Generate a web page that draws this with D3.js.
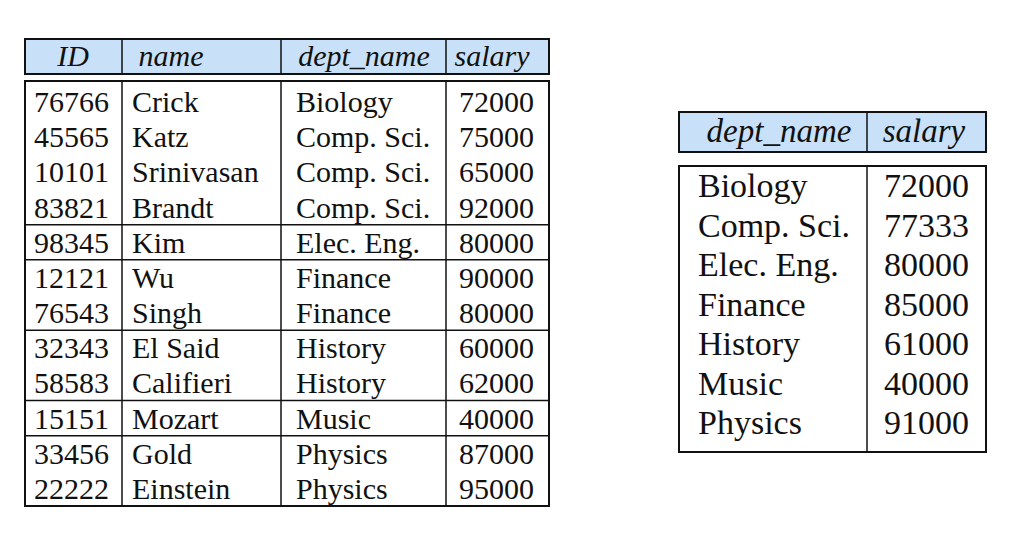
<html>
  <head>
    <meta charset="UTF-8">
    <script src="https://unpkg.com/d3@7/dist/d3.min.js"></script>
    <title>instructor / avg salary</title>
    <style>
      body { margin: 0; background: #fff; }
      text { font-family: "Liberation Serif", "Times New Roman", serif; fill: #111; }
    </style>
  </head>
  <body>
	<script type="text/javascript">

      // instructor relation
      var ids = ["76766","45565","10101","83821","98345","12121","76543","32343","58583","15151","33456","22222"];
      var names = ["Crick","Katz","Srinivasan","Brandt","Kim","Wu","Singh","El Said","Califieri","Mozart","Gold","Einstein"];
      var depts = ["Biology","Comp. Sci.","Comp. Sci.","Comp. Sci.","Elec. Eng.","Finance","Finance","History","History","Music","Physics","Physics"];
      var salaries = [72000,75000,65000,92000,80000,90000,80000,60000,62000,40000,87000,95000];
      var leftHeaders = ["ID","name","dept_name","salary"];

      // avg salary per dept
      var aggDepts = ["Biology","Comp. Sci.","Elec. Eng.","Finance","History","Music","Physics"];
      var aggSalaries = [72000,77333,80000,85000,61000,40000,91000];
      var rightHeaders = ["dept_name","salary"];

      var width = 1026;
      var height = 547;
      var headFill = "#c8e1f8";

      var svg = d3.select('body')
                  .append('svg')
                  .attr('width', width)
                  .attr('height', height);

      // draws one table: column edges, header box, body box, rows
      function drawTable(opt)
      {
        var g = svg.append('g');
        var edges = opt.edges;
        var x0 = edges[0], x1 = edges[edges.length - 1];

        // header
        g.append('rect')
          .attr('x', x0).attr('y', opt.headTop)
          .attr('width', x1 - x0).attr('height', opt.headBottom - opt.headTop)
          .style('fill', headFill).style('stroke', '#111').style('stroke-width', 2);

        g.selectAll('line.hdiv')
          .data(edges.slice(1, -1))
          .enter().append('line')
          .attr('x1', function(d){ return d; }).attr('x2', function(d){ return d; })
          .attr('y1', opt.headTop).attr('y2', opt.headBottom)
          .style('stroke', '#111').style('stroke-width', 1.5);

        g.selectAll('text.head')
          .data(opt.headers)
          .enter().append('text')
          .attr('x', function(d, i){ return opt.headX[i]; })
          .attr('y', opt.headBase)
          .attr('text-anchor', 'middle')
          .style('font-style', 'italic')
          .style('font-size', opt.headSize + 'px')
          .text(function(d){ return d; });

        // body
        g.append('rect')
          .attr('x', x0).attr('y', opt.bodyTop)
          .attr('width', x1 - x0).attr('height', opt.bodyBottom - opt.bodyTop)
          .style('fill', 'none').style('stroke', '#111').style('stroke-width', 2);

        g.selectAll('line.bdiv')
          .data(edges.slice(1, -1))
          .enter().append('line')
          .attr('x1', function(d){ return d; }).attr('x2', function(d){ return d; })
          .attr('y1', opt.bodyTop).attr('y2', opt.bodyBottom)
          .style('stroke', '#111').style('stroke-width', 1.5);

        var y = d3.scaleBand()
          .domain(d3.range(opt.columns[0].length))
          .range(opt.rowRange);

        // horizontal rules between groups
        g.selectAll('line.rule')
          .data(opt.rules || [])
          .enter().append('line')
          .attr('x1', x0).attr('x2', x1)
          .attr('y1', function(d){ return y(d); }).attr('y2', function(d){ return y(d); })
          .style('stroke', '#111').style('stroke-width', 1.5);

        opt.columns.forEach(function(col, c){
          g.selectAll('text.c' + c)
            .data(col)
            .enter().append('text')
            .attr('x', edges[c] + opt.pad[c])
            .attr('y', function(d, i){ return y(i) + opt.baseOff; })
            .style('font-size', opt.bodySize + 'px')
            .text(function(d){ return d; });
        });
      }

      // rule wherever the dept changes (the original leaves out the one under Biology)
      var leftRules = d3.range(1, depts.length).filter(function(i){
        return depts[i] !== depts[i - 1] && i > 1;
      });

      drawTable({
        edges: [25, 122, 281, 446, 549],
        headTop: 39, headBottom: 74, headBase: 66, headSize: 30,
        headX: [73, 171, 364, 492],
        headers: leftHeaders,
        bodyTop: 81, bodyBottom: 506,
        rowRange: [84, 506], baseOff: 28,
        rules: leftRules,
        columns: [ids, names, depts, salaries],
        pad: [9, 10, 15, 13],
        bodySize: 30
      });

      drawTable({
        edges: [679, 867, 986],
        headTop: 112, headBottom: 152, headBase: 142, headSize: 33,
        headX: [779, 924],
        headers: rightHeaders,
        bodyTop: 166, bodyBottom: 452,
        rowRange: [167, 443.5], baseOff: 30,
        columns: [aggDepts, aggSalaries],
        pad: [19, 17],
        bodySize: 34
      });

	</script>
  </body>
</html>
